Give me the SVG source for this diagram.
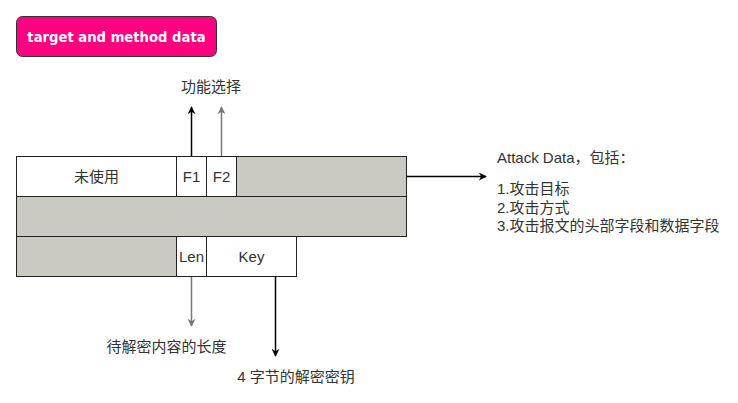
<svg xmlns="http://www.w3.org/2000/svg" width="738" height="403" viewBox="0 0 738 403">
<defs>
<style>
.t{font-family:"Liberation Sans","Noto Sans CJK SC",sans-serif;font-size:15px;fill:#333;}
.c{text-anchor:middle;}
.w{fill:#fff;stroke:#222;stroke-width:1;}
.g{fill:#cacac2;stroke:#222;stroke-width:1;}
.ln{fill:none;stroke-width:1.5;}
</style>
<marker id="ab" viewBox="0 0 10 10" refX="9" refY="5" markerWidth="8" markerHeight="8" orient="auto" markerUnits="userSpaceOnUse"><path d="M0,0 L10,5 L0,10 L3,5 Z" fill="#000"/></marker>
<marker id="ag" viewBox="0 0 10 10" refX="9" refY="5" markerWidth="8" markerHeight="8" orient="auto" markerUnits="userSpaceOnUse"><path d="M0,0 L10,5 L0,10 L3,5 Z" fill="#777"/></marker>
</defs>
<rect width="738" height="403" fill="#fff"/>
<g id="title">
<rect x="16.5" y="16.5" width="200" height="40" rx="6" fill="#ff0080" stroke="#333"/>
<text x="116.5" y="41.5" text-anchor="middle" font-family="DejaVu Sans, sans-serif" font-weight="bold" font-size="13.2" fill="#fff">target and method data</text>
</g>
<g id="row1">
<rect id="unused" class="w" x="16.5" y="156.5" width="160" height="40"/>
<text class="t c" x="96.5" y="182">未使用</text>
<rect class="g" x="236.5" y="156.5" width="170" height="40"/>
</g>
<g id="f1"><rect class="w" x="176.5" y="156.5" width="30" height="40"/><text class="t c" x="191.5" y="182">F1</text></g>
<g id="f2"><rect class="w" x="206.5" y="156.5" width="30" height="40"/><text class="t c" x="221.5" y="182">F2</text></g>
<g id="row2"><rect class="g" x="16.5" y="196.5" width="390" height="40"/></g>
<g id="row3"><rect class="g" x="16.5" y="236.5" width="160" height="40"/></g>
<g id="len"><rect class="w" x="176.5" y="236.5" width="30" height="40"/><text class="t c" x="191.5" y="262">Len</text></g>
<g id="key"><rect class="w" x="206.5" y="236.5" width="90" height="40"/><text class="t c" x="251.5" y="262">Key</text></g>
<g id="connectors">
<line class="ln" x1="191.5" y1="156" x2="191.5" y2="107" stroke="#000" marker-end="url(#ab)"/>
<line class="ln" x1="221.5" y1="156" x2="221.5" y2="107" stroke="#777" marker-end="url(#ag)"/>
<line class="ln" x1="406.5" y1="176.5" x2="486" y2="176.5" stroke="#000" marker-end="url(#ab)"/>
<line class="ln" x1="191.5" y1="277" x2="191.5" y2="326" stroke="#777" marker-end="url(#ag)"/>
<line class="ln" x1="275.5" y1="277" x2="275.5" y2="356" stroke="#000" marker-end="url(#ab)"/>
</g>
<g id="labels">
<text class="t c" x="211" y="92">功能选择</text>
<text class="t c" x="166.5" y="352">待解密内容的长度</text>
<text class="t c" x="296" y="382">4 字节的解密密钥</text>
</g>
<g id="attack">
<text class="t" x="497" y="163">Attack Data，包括：</text>
<text class="t" x="497" y="194">1.攻击目标</text>
<text class="t" x="497" y="212.5">2.攻击方式</text>
<text class="t" x="497" y="231">3.攻击报文的头部字段和数据字段</text>
</g>
</svg>
